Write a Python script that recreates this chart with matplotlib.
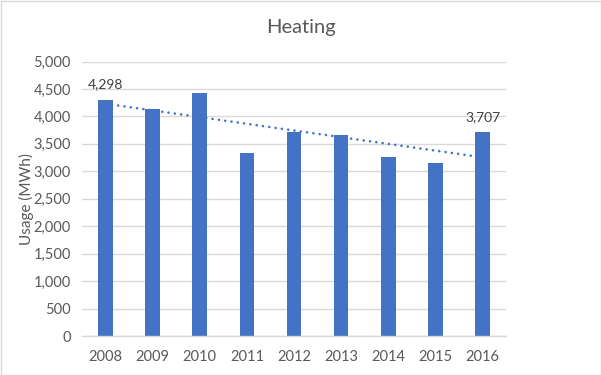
import matplotlib
matplotlib.use("Agg")
import matplotlib.pyplot as plt
import numpy as np
from matplotlib.patches import Rectangle

years = ["2008", "2009", "2010", "2011", "2012", "2013", "2014", "2015", "2016"]
usage = [4298, 4135, 4426, 3333, 3716, 3661, 3260, 3151, 3707]
yticks = [0, 500, 1000, 1500, 2000, 2500, 3000, 3500, 4000, 4500, 5000]

plt.rcParams['font.family'] = ['Lato', 'DejaVu Sans']

fig = plt.figure(figsize=(6.01, 3.75), dpi=100)
ax = fig.add_axes([82/601, 1-336/375, (506-82)/601, (336-61.5)/375])

x = np.arange(len(years))
bar_color = "#4472C4"
ax.bar(x, usage, width=0.31, color=bar_color, zorder=2)

# linear trendline
coef = np.polyfit(x, usage, 1)
trend = np.polyval(coef, x)
ax.plot(x, trend, linestyle=(0, (0.01, 2.4)), dash_capstyle='round',
        color=bar_color, linewidth=1.9, zorder=3)

# data labels for first and last
for i in (0, len(years) - 1):
    ax.annotate(f"{usage[i]:,}", (x[i], usage[i]), xytext=(0, 7),
                textcoords="offset points", ha="center", va="bottom",
                fontsize=10, color="#404040")

ax.set_xlim(-0.5, len(years) - 0.5)
ax.set_ylim(0, 5000)
ax.set_yticks(yticks)
ax.set_yticklabels([f"{v:,}" for v in yticks])
ax.set_xticks(x)
ax.set_xticklabels(years)
ax.tick_params(axis='both', length=0, labelsize=10.5, labelcolor="#595959")
ax.tick_params(axis='y', pad=8)
ax.tick_params(axis='x', pad=10)
ax.grid(axis='y', color="#d9d9d9", linewidth=1, zorder=0)
ax.set_axisbelow(True)
for s in ["top", "right", "left"]:
    ax.spines[s].set_visible(False)
ax.spines["bottom"].set_color("#d9d9d9")
ax.spines["bottom"].set_linewidth(1)

ax.set_ylabel("Usage (MWh)", fontsize=11, color="#595959")
ax.yaxis.set_label_coords((34 - 82) / 424, 0.5)
fig.text(0.5, 1 - 28/375, "Heating", ha="center", va="center",
         fontsize=14.5, color="#595959")

fig.patches.append(Rectangle((0.5/601, 0.5/375), 1 - 1/601, 1 - 1/375,
                             transform=fig.transFigure, fill=False,
                             edgecolor="#d9d9d9", linewidth=1))

fig.savefig("out.png", dpi=100)
